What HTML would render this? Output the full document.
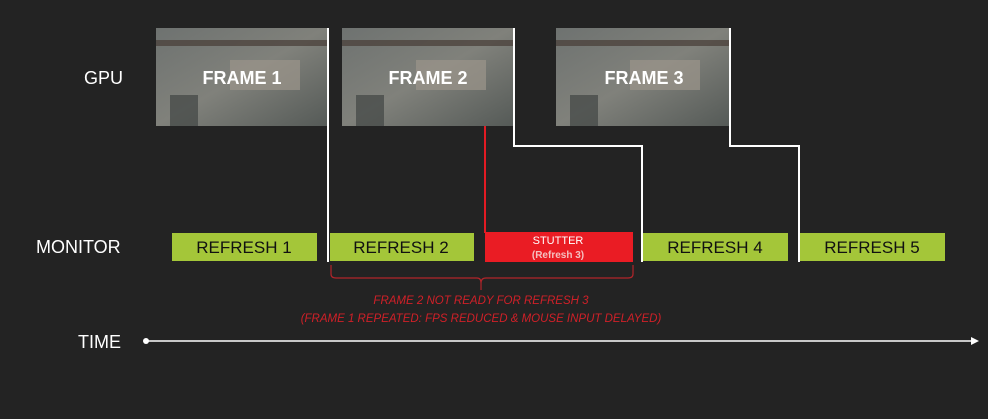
<!DOCTYPE html>
<html><head><meta charset="utf-8"><style>
html,body{margin:0;padding:0;background:#232323;width:988px;height:419px;overflow:hidden}
svg{display:block}
text{font-family:"Liberation Sans Narrow","Liberation Sans",sans-serif}
</style></head><body>
<svg width="988" height="419" viewBox="0 0 988 419" xmlns="http://www.w3.org/2000/svg">
<defs>
<linearGradient id="g" x1="0" y1="0" x2="1" y2="1">
<stop offset="0" stop-color="#6e7270"/><stop offset="0.5" stop-color="#80817b"/><stop offset="1" stop-color="#555a57"/>
</linearGradient>
</defs>
<rect width="988" height="419" fill="#232323"/>
<g>
<rect x="156" y="28" width="171" height="98" fill="url(#g)"/>
<rect x="342" y="28" width="171" height="98" fill="url(#g)"/>
<rect x="556" y="28" width="173" height="98" fill="url(#g)"/>
<g fill="#454947" opacity="0.75">
<rect x="170" y="95" width="28" height="31"/><rect x="356" y="95" width="28" height="31"/><rect x="570" y="95" width="28" height="31"/>
<rect x="156" y="40" width="171" height="6" fill="#4a403a"/><rect x="342" y="40" width="171" height="6" fill="#4a403a"/><rect x="556" y="40" width="173" height="6" fill="#4a403a"/>
<rect x="230" y="60" width="70" height="30" fill="#9a948a"/><rect x="416" y="60" width="70" height="30" fill="#9a948a"/><rect x="630" y="60" width="70" height="30" fill="#9a948a"/>
</g>
<g font-weight="bold" font-size="18" fill="#fff" text-anchor="middle">
<text x="242" y="84">FRAME 1</text>
<text x="428" y="84">FRAME 2</text>
<text x="644" y="84">FRAME 3</text>
</g>
</g>
<g stroke="#fff" stroke-width="2" fill="none">
<line x1="328" y1="28" x2="328" y2="262"/>
<polyline points="514,28 514,146 642,146 642,262"/>
<polyline points="730,28 730,146 799,146 799,262"/>
</g>
<line x1="485" y1="126" x2="485" y2="233" stroke="#e21b23" stroke-width="2"/>
<g font-size="17" text-anchor="middle" fill="#111">
<rect x="172" y="233" width="145" height="28" fill="#a4c639"/><text x="244" y="253">REFRESH 1</text>
<rect x="330" y="233" width="144" height="28" fill="#a4c639"/><text x="401" y="253">REFRESH 2</text>
<rect x="643" y="233" width="145" height="28" fill="#a4c639"/><text x="715" y="253">REFRESH 4</text>
<rect x="800" y="233" width="145" height="28" fill="#a4c639"/><text x="872" y="253">REFRESH 5</text>
</g>
<rect x="485" y="232" width="148" height="30" fill="#ea1c24"/>
<text x="558" y="244" font-size="11" fill="#fff" text-anchor="middle">STUTTER</text>
<text x="558" y="258" font-size="10" fill="#f4c0c0" text-anchor="middle" font-weight="bold">(Refresh 3)</text>
<path d="M331 265 L331 274 Q331 278 336 278 L477 278 Q481 278 481 283 L481 290 M481 283 Q481 278 486 278 L628 278 Q633 278 633 274 L633 265" stroke="#b2242a" stroke-width="1.2" fill="none"/>
<g font-size="11.5" font-style="italic" fill="#d02028" text-anchor="middle">
<text x="481" y="304">FRAME 2 NOT READY FOR REFRESH 3</text>
<text x="481" y="322">(FRAME 1 REPEATED: FPS REDUCED &amp; MOUSE INPUT DELAYED)</text>
</g>
<g font-size="18" fill="#fff">
<text x="84" y="84">GPU</text>
<text x="36" y="253">MONITOR</text>
<text x="78" y="348">TIME</text>
</g>
<line x1="146" y1="341" x2="974" y2="341" stroke="#fff" stroke-width="1.5"/>
<circle cx="146" cy="341" r="3" fill="#fff"/>
<path d="M979 341 L971 337 L971 345 Z" fill="#fff"/>
</svg>
</body></html>
